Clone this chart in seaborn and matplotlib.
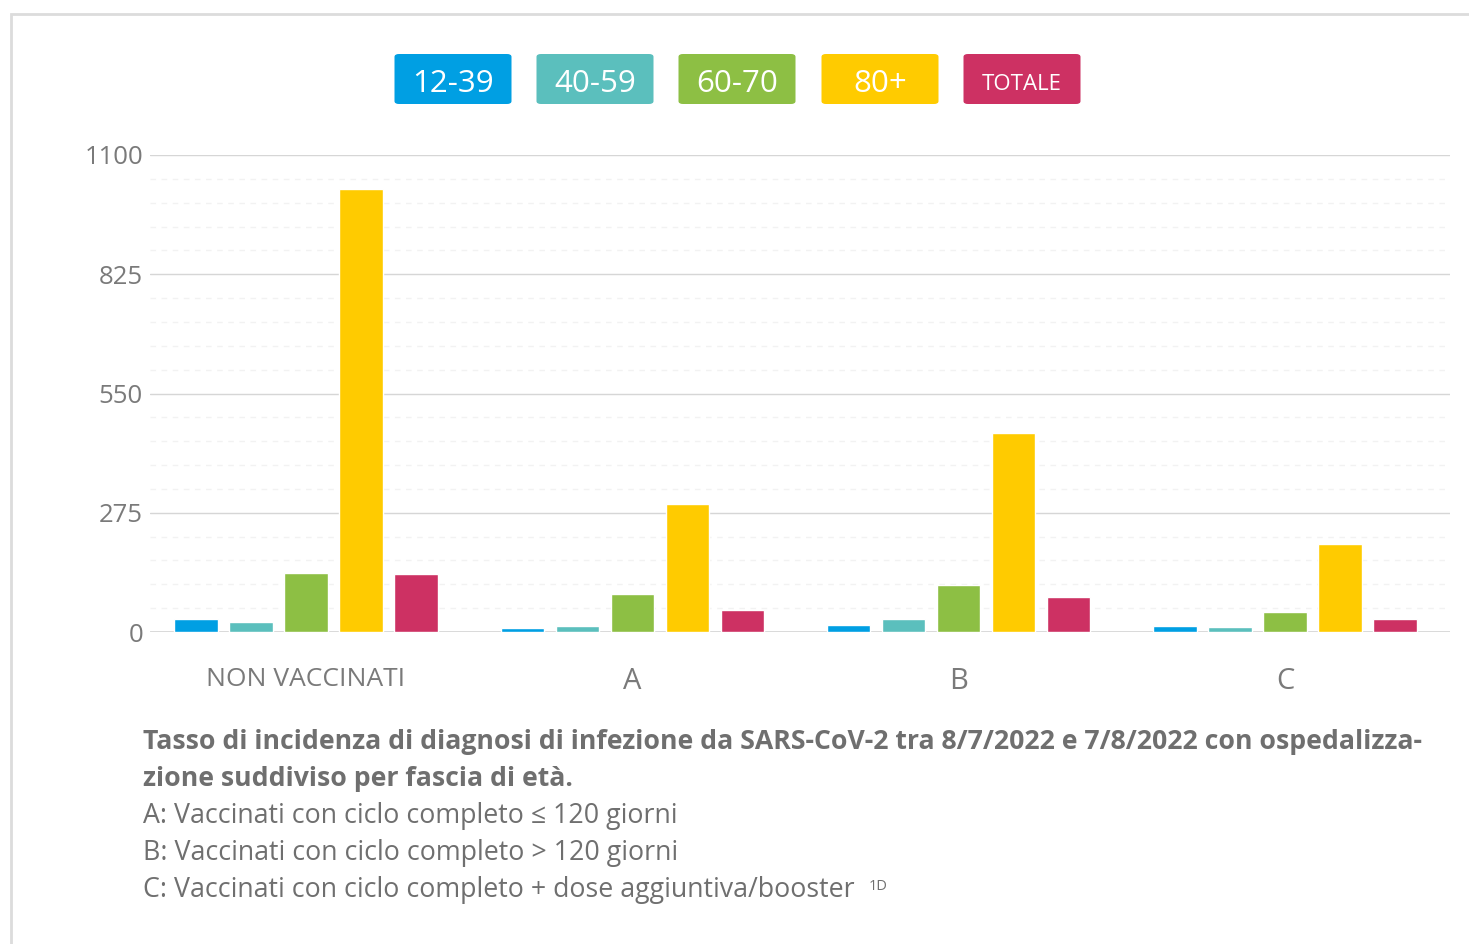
import matplotlib.pyplot as plt
from matplotlib.patches import FancyBboxPatch, Rectangle
import numpy as np
import pandas as pd
import seaborn as sns

sns.set_theme(style="white")
plt.rcParams['font.family'] = ['Open Sans', 'Noto Sans', 'DejaVu Sans']

# data
categories = ["NON VACCINATI", "A", "B", "C"]
age_groups = ["12-39", "40-59", "60-70", "80+", "TOTALE"]
val_1239 = [30, 9, 15, 13]
val_4059 = [23, 13, 29, 11]
val_6070 = [136, 87, 108, 45]
val_80 = [1022, 295, 458, 202]
val_tot = [134, 50, 80, 29]
colors = ["#009fe3", "#5bbfbd", "#8dbf44", "#ffcb00", "#cd3163"]
yticks = [0, 275, 550, 825, 1100]

caption_bold = ["Tasso di incidenza di diagnosi di infezione da SARS-CoV-2 tra 8/7/2022 e 7/8/2022 con ospedalizza-",
                "zione suddiviso per fascia di età."]
caption_lines = ["A: Vaccinati con ciclo completo \u2264 120 giorni",
                 "B: Vaccinati con ciclo completo > 120 giorni",
                 "C: Vaccinati con ciclo completo + dose aggiuntiva/booster"]

series = [val_1239, val_4059, val_6070, val_80, val_tot]
rows = []
for g, vals in zip(age_groups, series):
    for c, v in zip(categories, vals):
        rows.append({"cat": c, "group": g, "value": v})
df = pd.DataFrame(rows)

W, H = 1469, 944
fig = plt.figure(figsize=(W / 100, H / 100), dpi=100)
ax = fig.add_axes([150 / W, 1 - 632 / H, 1300 / W, 477 / H])

# faint dashed minor grid
for y in np.arange(55, 1100, 55):
    if y % 275:
        ax.axhline(y, color="#f2f2f2", lw=1, ls=(0, (4, 4)), zorder=0)
for y in yticks:
    ax.axhline(y, color="#d6d6d6", lw=2 if y == 0 else 1, zorder=0)

sns.barplot(data=df, x="cat", y="value", hue="group", palette=colors,
            width=0.843, gap=0.21, saturation=1, ax=ax, legend=False, zorder=2)

ax.set_xlim(-0.478, 3.506)
ax.set_ylim(0, 1100)
ax.set_yticks(yticks)
ax.set_yticklabels([str(t) for t in yticks], fontsize=18.5, color="#7a7a7a")
ax.tick_params(axis="y", length=0, pad=5)
ax.tick_params(axis="x", length=0, pad=25)
ax.set_xticks(range(len(categories)))
ax.set_xticklabels(categories, color="#7a7a7a")
for i, lab in enumerate(ax.get_xticklabels()):
    lab.set_fontsize(19 if i == 0 else 21)
ax.set_xlabel("")
ax.set_ylabel("")
for s in ax.spines.values():
    s.set_visible(False)

# custom legend boxes
centers = [453, 595, 737, 880, 1022]
for g, col, cx in zip(age_groups, colors, centers):
    bw, bh = 117, 50
    fig.patches.append(FancyBboxPatch(((cx - bw / 2) / W, 1 - 104 / H), bw / W, bh / H,
                                      boxstyle="round,pad=0,rounding_size=0.003",
                                      transform=fig.transFigure, fc=col, ec="none"))
    fig.text(cx / W, 1 - 84 / H, g, color="white", ha="center", va="center",
             fontsize=16 if g == "TOTALE" else 22.5)

# outer frame
fig.patches.append(Rectangle((11 / W, -0.1), 1.2, 1 - 14 / H + 0.1, transform=fig.transFigure,
                             fc="none", ec="#dcdcdc", lw=2))

# caption
ys = [742, 779, 816, 853, 890]
for txt, y in zip(caption_bold, ys[:2]):
    fig.text(143 / W, 1 - y / H, txt, fontsize=19.2, fontweight="bold", color="#6f6f6f", va="center")
for txt, y in zip(caption_lines, ys[2:]):
    fig.text(143 / W, 1 - y / H, txt, fontsize=19.3, color="#6f6f6f", va="center")
fig.text(869 / W, 1 - 886 / H, "1D", fontsize=10.5, color="#6f6f6f", va="center")

fig.savefig("out.png", dpi=100)
